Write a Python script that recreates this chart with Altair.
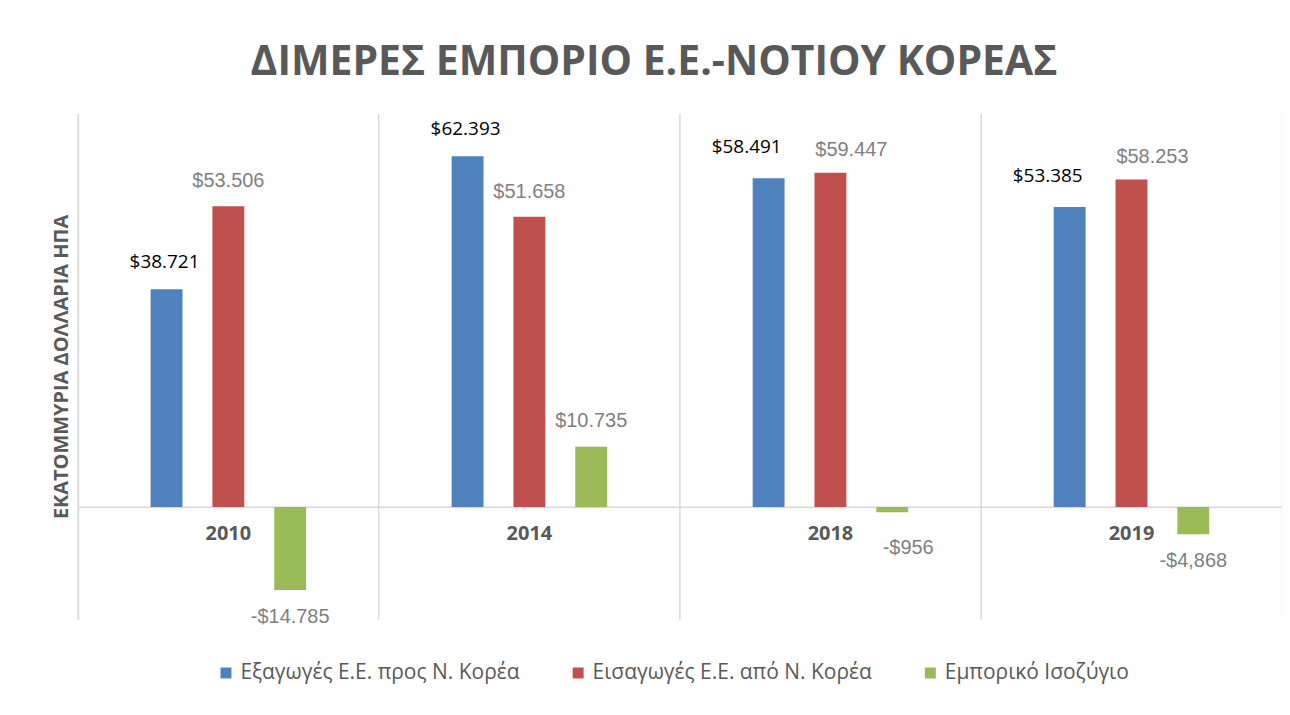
import altair as alt
import pandas as pd

years = ["2010", "2014", "2018", "2019"]
series = ["Εξαγωγές Ε.Ε. προς Ν. Κορέα", "Εισαγωγές Ε.Ε. από Ν. Κορέα", "Εμπορικό Ισοζύγιο"]
exports = [38721, 62393, 58491, 53385]
imports = [53506, 51658, 59447, 58253]
balance = [-14785, 10735, -956, -4868]
export_labels = ["$38.721", "$62.393", "$58.491", "$53.385"]
import_labels = ["$53.506", "$51.658", "$59.447", "$58.253"]
balance_labels = ["-$14.785", "$10.735", "-$956", "-$4,868"]
colors = ["#4f81bd", "#c0504d", "#9bbb59"]

rows = []
for i, y in enumerate(years):
    for s, vals, labs in zip(series, [exports, imports, balance], [export_labels, import_labels, balance_labels]):
        rows.append({"year": y, "series": s, "value": vals[i], "label": labs[i]})
df = pd.DataFrame(rows)
df_years = pd.DataFrame({"year": years, "zero": [0] * len(years)})

GRID = "#d9d9d9"
xaxis = alt.Axis(title=None, labels=False, ticks=False, domain=False, grid=True,
                 gridColor=GRID, gridWidth=1.5, bandPosition=0)
xscale = alt.Scale(domain=years, paddingInner=0, paddingOuter=0)
offset_domain = ["_pad_start"] + series + ["_pad_end"]
xoff = alt.XOffset("series:N", scale=alt.Scale(domain=offset_domain, paddingInner=0.484, paddingOuter=0.177))
yscale = alt.Scale(domain=[-20000, 70000], nice=False, zero=False)

base = alt.Chart(df)

bars = base.mark_bar().encode(
    x=alt.X("year:N", scale=xscale, axis=xaxis),
    xOffset=xoff,
    y=alt.Y("value:Q", scale=yscale,
            axis=alt.Axis(orient="left", title="ΕΚΑΤΟΜΜΥΡΙΑ ΔΟΛΛΑΡΙΑ ΗΠΑ", labels=False, ticks=False,
                          domain=True, domainColor=GRID, domainWidth=1.5, grid=True, values=[0],
                          gridColor=GRID, gridWidth=1.5, titleFont="Open Sans", titleFontSize=20,
                          titleFontWeight="bold", titleColor="#595959", titlePadding=6)),
    color=alt.Color("series:N", scale=alt.Scale(domain=series, range=colors),
                    legend=alt.Legend(title=None, orient="none", legendX=138, legendY=550,
                                      direction="horizontal",
                                      symbolType="square", symbolSize=120, symbolStrokeWidth=0,
                                      labelFont="Open Sans", labelFontSize=21, labelColor="#595959",
                                      labelLimit=500, columnPadding=48, labelOffset=4)),
)


def text_layer(filt, dy, color, font, size, dx=0, right_axis=False):
    ax = None
    if right_axis:
        ax = alt.Axis(orient="right", title=None, labels=False, ticks=False, grid=False,
                      domain=True, domainColor=GRID, domainWidth=1.5)
    return base.transform_filter(filt).mark_text(
        dy=dy, dx=dx, color=color, font=font, fontSize=size, baseline="middle", align="center"
    ).encode(
        x=alt.X("year:N", scale=xscale, axis=xaxis),
        xOffset=xoff,
        y=alt.Y("value:Q", scale=yscale, axis=ax),
        text="label:N",
    )


is_exp = alt.datum.series == series[0]
is_imp = alt.datum.series == series[1]
is_bal = alt.datum.series == series[2]
late = (alt.datum.year == "2018") | (alt.datum.year == "2019")
special = is_bal & (alt.datum.year == "2018")

t_exp = text_layer(is_exp & ~late, -27, "#000000", "Open Sans", 19, dx=-2, right_axis=True)
t_exp_late = text_layer(is_exp & late, -31, "#000000", "Open Sans", 19, dx=-22)
t_imp = text_layer(is_imp & ~late, -25, "#7f7f7f", "Liberation Sans", 20)
t_imp_late = text_layer(is_imp & late, -23, "#7f7f7f", "Liberation Sans", 20, dx=21)
t_bal_pos = text_layer(is_bal & (alt.datum.value > 0), -26, "#7f7f7f", "Liberation Sans", 20)
t_bal_neg = text_layer(is_bal & (alt.datum.value < 0) & ~special, 27, "#7f7f7f", "Liberation Sans", 20)
t_special = text_layer(special, 36, "#7f7f7f", "Liberation Sans", 20, dx=16)

year_text = alt.Chart(df_years).mark_text(
    dy=27, font="Open Sans", fontSize=20, fontWeight="bold", color="#595959", baseline="middle"
).encode(
    x=alt.X("year:N", scale=xscale, axis=xaxis),
    y=alt.Y("zero:Q", scale=yscale, axis=None),
    text="year:N",
)

chart = alt.layer(bars, t_exp, t_exp_late, t_imp, t_imp_late, t_bal_pos, t_bal_neg, t_special,
                  year_text).resolve_axis(
    y="independent"
).properties(
    width=1207,
    height=507,
    padding={"left": 44, "top": 33, "right": 0, "bottom": 10},
    title=alt.TitleParams(
        "ΔΙΜΕΡΕΣ ΕΜΠΟΡΙΟ Ε.Ε.-ΝΟΤΙΟΥ ΚΟΡΕΑΣ", font="Open Sans", fontSize=41, fontWeight="bold",
        color="#595959", anchor="middle", dx=-26, offset=30,
    ),
).configure_view(stroke=None)

chart.save("out.html", embed_options={"renderer": "svg", "actions": False})
